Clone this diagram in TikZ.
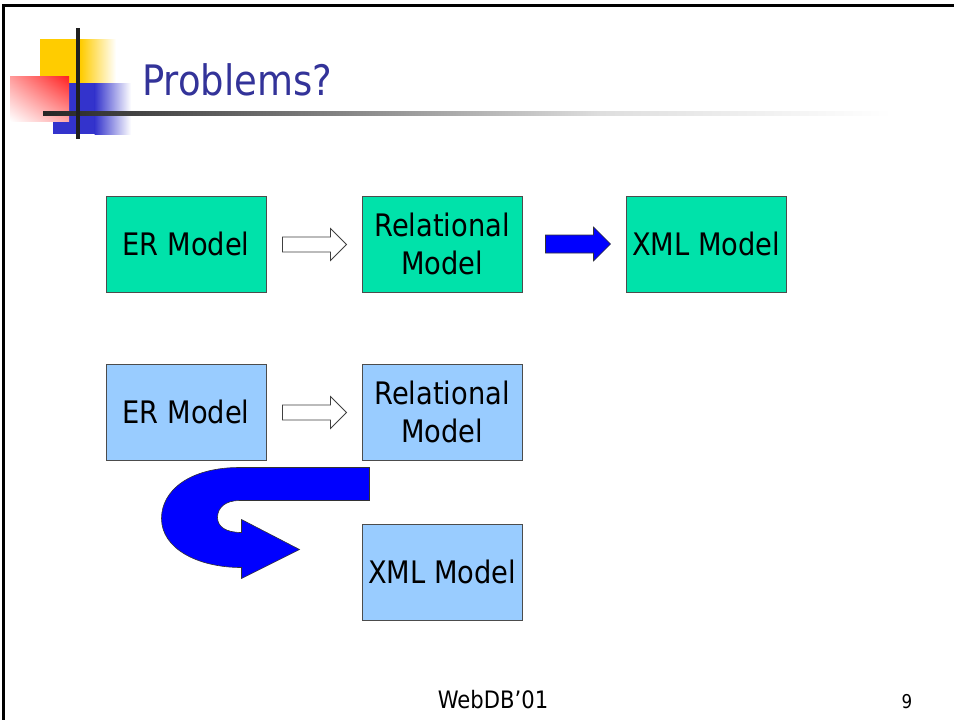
\documentclass[tikz,border=0pt]{standalone}
\usepackage{fontspec}
\setmainfont[FakeStretch=0.88]{DejaVu Sans}
\usetikzlibrary{calc,shadings}
\definecolor{boxgreen}{HTML}{00E2AA}
\definecolor{boxblue}{HTML}{99CCFF}
\definecolor{titleblue}{HTML}{333399}
\definecolor{deco yellow}{HTML}{FFCC00}
\definecolor{deco blue}{HTML}{3333CC}
\definecolor{deco red}{HTML}{FF2020}
\definecolor{arrowblue}{HTML}{0000FF}
\tikzset{
  modelbox/.style={draw=black!70, line width=1pt, minimum width=160pt,
    minimum height=96pt, inner sep=0pt, align=center,
    font=\fontsize{31}{38}\selectfont},
  greenbox/.style={modelbox, fill=boxgreen},
  bluebox/.style={modelbox, fill=boxblue},
  hollowarrow/.style={draw=black!75, line width=0.8pt, fill=white, line join=miter},
  solidarrow/.style={draw=black!80, line width=0.6pt, fill=arrowblue, line join=miter},
}
% block arrow: style, start point, shaft length, head length, half shaft width, half head width
\newcommand{\blockarr}[6]{%
  \draw[#1] ($(#2)+(0,-#5)$) -- ($(#2)+(#3,-#5)$) -- ($(#2)+(#3,-#6)$)
    -- ($(#2)+(#3+#4,0)$) -- ($(#2)+(#3,#6)$) -- ($(#2)+(#3,#5)$)
    -- ($(#2)+(0,#5)$) -- cycle;}
\begin{document}
\begin{tikzpicture}[x=1pt,y=-1pt]
\useasboundingbox (0,0) rectangle (954,720);
\fill[white] (0,0) rectangle (954,720);

% slide frame (top and left edges)
\draw[line width=3pt, black] (3.5,720) -- (3.5,5) -- (954,5);

% title decoration: yellow and blue squares fading out to the right
\fill[deco yellow] (40,39) rectangle (81,83.5);
\shade[left color=deco yellow, right color=white] (80.5,39) rectangle (116,83.5);
\fill[deco blue] (53,83) rectangle (95,134);
\shade[left color=deco blue, right color=white] (94.5,83) rectangle (131,134);
% red square fading towards its lower left corner
\shade[upper right=deco red, upper left=deco red!45, lower right=deco red!40,
  lower left=white] (10,76) rectangle (69,121);
% underline fading from dark to white
\shade[left color=black!85, right color=black!47] (43,111) rectangle (350.5,115);
\shade[left color=black!47, right color=black!13] (350,111) rectangle (600.5,115);
\shade[left color=black!13, right color=white] (600,111) rectangle (892,115);
% vertical bar
\fill[black!88] (76,28) rectangle (80,139);

\node[anchor=base west, text=titleblue, font=\fontsize{42}{48}\selectfont, inner sep=0pt]
  (title) at (142,95) {Problems?};

% first row
\node[greenbox] (er1)  at (186,244) {ER Model};
\node[greenbox] (rel1) at (442,244) {Relational\\Model};
\node[greenbox] (xml1) at (706,244) {XML Model};

% second row
\node[bluebox] (er2)  at (186,412) {ER Model};
\node[bluebox] (rel2) at (442,412) {Relational\\Model};
\node[bluebox] (xml2) at (442,572) {XML Model};

% straight block arrows
\coordinate (a1) at ($(er1.east)+(16,0.5)$);
\blockarr{hollowarrow}{a1}{48}{16}{7.5}{16}
\coordinate (a2) at ($(rel1.east)+(23,0)$);
\blockarr{solidarrow}{a2}{48}{17}{9}{17}
\coordinate (a3) at ($(er2.east)+(16,0.5)$);
\blockarr{hollowarrow}{a3}{48}{16}{7.5}{16}

% U-turn arrow from the relational model down to the XML model
\begin{scope}[shift={(rel2.south west)}]
  \draw[solidarrow]
    (8,7) -- (-122,7)
    .. controls (-172,7) and (-200,30) .. (-200,58)
    .. controls (-200,88) and (-164,107) .. (-120,107)
    -- (-120,118) -- (-62,89) -- (-120,59) -- (-120,72)
    .. controls (-136,72) and (-144,66) .. (-144,57)
    .. controls (-144,47) and (-136,40) .. (-122,40)
    -- (8,40) -- cycle;
\end{scope}

% footer
\node[anchor=base, font=\fontsize{24}{28}\selectfont, inner sep=0pt] (foot) at (493,708) {WebDB’01};
\node[anchor=base, font=\fontsize{19}{22}\selectfont, inner sep=0pt] (pagenum) at (907,708) {9};
\end{tikzpicture}
\end{document}
